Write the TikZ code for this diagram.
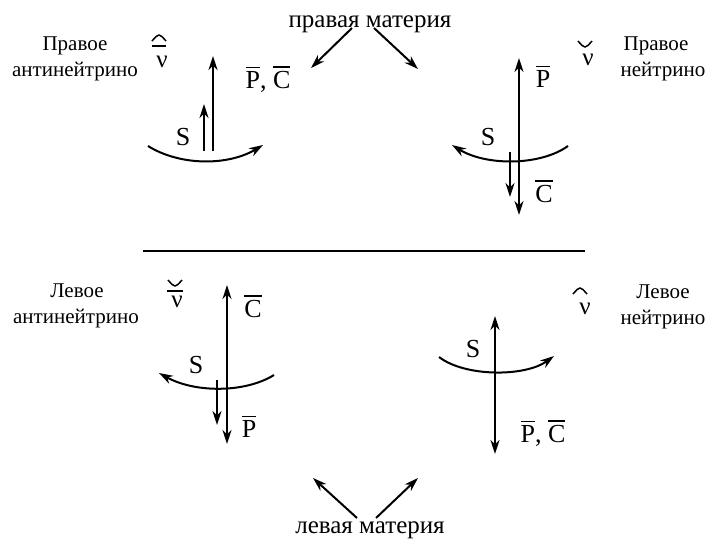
\documentclass[tikz,border=0pt]{standalone}
\usepackage{fontspec}
\setmainfont{Liberation Serif}
\usetikzlibrary{arrows.meta}
\newcommand\ovl[1]{\vbox{\hrule height 1.5pt\kern 2.8pt\hbox{#1}}}
\tikzset{
  lbl/.style={font=\fontsize{21}{26}\selectfont, inner sep=0pt, anchor=base},
  big/.style={font=\fontsize{25}{30}\selectfont, inner sep=0pt, anchor=base},
  sym/.style={font=\fontsize{26}{30}\selectfont, inner sep=0pt, anchor=base},
  nu/.style={font=\fontsize{25}{28}\selectfont, inner sep=0pt, anchor=base},
  arr/.style={line width=2pt, -{Stealth[length=14pt,width=9pt,inset=4.5pt]}},
  darr/.style={line width=2pt, {Stealth[length=14pt,width=9pt,inset=4.5pt]}-{Stealth[length=14pt,width=9pt,inset=4.5pt]}},
  deco/.style={line width=1.5pt}
}
\begin{document}
\begin{tikzpicture}[x=1pt,y=-1pt]
\useasboundingbox (0,0) rectangle (706,539);

% ---------- top label and arrows
\node[big] (top) at (370,27) {правая материя};
\coordinate (t1s) at (352,28); \coordinate (t1e) at (311,68);
\coordinate (t2s) at (374,28); \coordinate (t2e) at (418,69);
\draw[arr] (t1s) -- (t1e);
\draw[arr] (t2s) -- (t2e);

% ---------- top-left: right antineutrino
\node[lbl] (tlL1) at (75,50) {Правое};
\node[lbl] (tlL2) at (75,76) {антинейтрино};
\node[nu] (tlnu) at (162,67) {ν};
\draw[deco] (152,41) .. controls (159,33) .. (166,41);
\draw[deco] (152,46) -- (166,46);
\coordinate (tlA1) at (213,151); \coordinate (tlA2) at (213,56);
\coordinate (tlB1) at (204,151); \coordinate (tlB2) at (204,104);
\draw[arr] (tlA1) -- (tlA2);
\draw[arr] (tlB1) -- (tlB2);
\node[sym] (tlS) at (183,145) {S};
\coordinate (tlC1) at (148,146); \coordinate (tlC2) at (263,145);
\draw[arr] (tlC1) .. controls (180,166) and (228,166) .. (tlC2);
\node[sym] (tlPC) at (268,88) {\ovl{P}, \ovl{C}};

% ---------- top-right: right neutrino
\node[lbl] (trL1) at (656,50) {Правое};
\node[lbl] (trL2) at (663,76) {нейтрино};
\node[nu] (trnu) at (588,65) {ν};
\draw[deco] (578,41) .. controls (585,49) .. (592,41);
\coordinate (trA1) at (519,58); \coordinate (trA2) at (519,215);
\coordinate (trB1) at (510,152); \coordinate (trB2) at (510,197);
\draw[darr] (trA1) -- (trA2);
\draw[arr] (trB1) -- (trB2);
\node[sym] (trS) at (488,145) {S};
\coordinate (trC1) at (568,146); \coordinate (trC2) at (452,145);
\draw[arr] (trC1) .. controls (540,166) and (486,166) .. (trC2);
\node[sym] (trP) at (543,87) {\ovl{P}};
\node[sym] (trC) at (544,202) {\ovl{C}};

% ---------- separator
\coordinate (h1) at (143,251); \coordinate (h2) at (585,251);
\draw[line width=2pt] (h1) -- (h2);

% ---------- bottom-left: left antineutrino
\node[lbl] (blL1) at (77,297) {Левое};
\node[lbl] (blL2) at (76,323) {антинейтрино};
\node[nu] (blnu) at (177,307) {ν};
\draw[deco] (168,280) .. controls (175,288) .. (182,280);
\draw[deco] (167,291) -- (183,291);
\coordinate (blA1) at (227,285); \coordinate (blA2) at (227,444);
\coordinate (blB1) at (217,380); \coordinate (blB2) at (217,425);
\draw[darr] (blA1) -- (blA2);
\draw[arr] (blB1) -- (blB2);
\node[sym] (blS) at (196,373) {S};
\coordinate (blC1) at (274,375); \coordinate (blC2) at (159,373);
\draw[arr] (blC1) .. controls (245,393) and (195,393) .. (blC2);
\node[sym] (blC) at (253,317) {\ovl{C}};
\node[sym] (blP) at (249,437) {\ovl{P}};

% ---------- bottom-right: left neutrino
\node[lbl] (brL1) at (663,298) {Левое};
\node[lbl] (brL2) at (663,324) {нейтрино};
\node[nu] (brnu) at (585,314) {ν};
\draw[deco] (573,294) .. controls (580,286) .. (587,294);
\coordinate (brA1) at (495,316); \coordinate (brA2) at (495,454);
\draw[darr] (brA1) -- (brA2);
\node[sym] (brS) at (473,357) {S};
\coordinate (brC1) at (439,357); \coordinate (brC2) at (554,356);
\draw[arr] (brC1) .. controls (465,377) and (525,377) .. (brC2);
\node[sym] (brPC) at (543,442) {\ovl{P}, \ovl{C}};

% ---------- bottom label and arrows
\node[big] (bot) at (370,533) {левая материя};
\coordinate (b1s) at (357,518); \coordinate (b1e) at (313,478);
\coordinate (b2s) at (376,518); \coordinate (b2e) at (418,478);
\draw[arr] (b1s) -- (b1e);
\draw[arr] (b2s) -- (b2e);
\end{tikzpicture}
\end{document}
